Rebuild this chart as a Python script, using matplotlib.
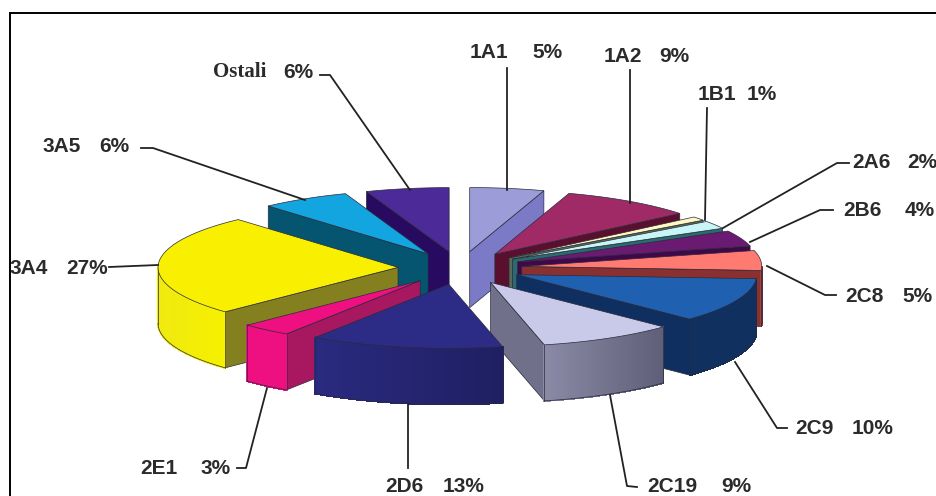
import numpy as np
import matplotlib
matplotlib.use("Agg")
import matplotlib.pyplot as plt
from matplotlib.colors import to_rgb

# ---- data -------------------------------------------------------------
names = ["1A1", "1A2", "1B1", "2A6", "2B6", "2C8", "2C9", "2C19", "2D6", "2E1", "3A4", "3A5", "Ostali"]
percent_labels = ["5%", "9%", "1%", "2%", "4%", "5%", "10%", "9%", "13%", "3%", "27%", "6%", "6%"]
# sector sizes as drawn in the picture (the printed labels are rounded)
shares = [5.0, 9.0, 1.0, 2.0, 4.0, 5.0, 11.2, 9.2, 13.0, 3.4, 25.6, 6.0, 5.6]

# ---- styles -----------------------------------------------------------
top_colors = ["#9c9cd9", "#a02a66", "#fdf8c4", "#c8f5f5", "#6a1a70", "#ff7a70", "#2060b0",
              "#c9c9ea", "#2c2c86", "#ee0f80", "#f8f000", "#12a5e0", "#4c2a98"]
face_colors = ["#7a7ac6", "#5a0f2e", "#5a6a55", "#2a6a70", "#40084a", "#8a3030", "#0f2f60",
               "#70708a", "#232370", "#a81860", "#85801f", "#055570", "#280a60"]
rim_left = ["#7a7ac6", "#5a0f2e", "#5a6a55", "#2a6a70", "#40084a", "#a04038", "#10305f",
            "#8a8aa6", "#2a2a80", "#ee0f80", "#f0ea10", "#055570", "#280a60"]
rim_right = ["#7a7ac6", "#5a0f2e", "#5a6a55", "#2a6a70", "#40084a", "#a04038", "#10305f",
             "#5e5e78", "#1f1f62", "#ee0f80", "#f6f000", "#055570", "#280a60"]
CX, CY, RX, KY, EXPLODE, DEPTH = 460, 268, 240, 0.267, 62, 56
EDGE = "#2a2a3a"
TEXT = "#2b2b2b"

label_pos = {  # name x, pct x, y
    "1A1": (470, 532, 53), "1A2": (604, 659, 56), "1B1": (698, 747, 95),
    "2A6": (852, 907, 162), "2B6": (843, 905, 210), "2C8": (845, 902, 296),
    "2C9": (795, 852, 429), "2C19": (647, 721, 487), "2D6": (385, 443, 486),
    "2E1": (140, 201, 468), "3A4": (10, 66, 268), "3A5": (43, 99, 147),
    "Ostali": (213, 283, 72),
}
leaders = {
    "1A1": ([507, 507], [68, 190]), "1A2": ([630, 630], [70, 203]),
    "1B1": ([707, 705], [108, 220]), "2A6": ([849, 837, 723], [163, 163, 228]),
    "2B6": ([833, 820, 750], [210, 210, 242]), "2C8": ([836, 825, 767], [295, 295, 266]),
    "2C9": ([787, 777, 735], [428, 428, 362]), "2C19": ([637, 627, 610], [487, 486, 395]),
    "2D6": ([408, 408], [404, 468]), "2E1": ([237, 246, 267], [468, 468, 388]),
    "3A4": ([109, 158], [267, 265]), "3A5": ([141, 153, 305], [148, 148, 200]),
    "Ostali": ([320, 330, 410], [75, 75, 190]),
}

fig = plt.figure(figsize=(9.37, 4.96), dpi=100, facecolor="white")
ax = fig.add_axes([0, 0, 1, 1])
ax.set_xlim(0, 937)
ax.set_ylim(496, 0)
ax.axis("off")


def project(theta, ax0, ay0):
    return ax0 + RX * np.sin(theta), ay0 - RX * KY * np.cos(theta)


edges = np.radians(np.concatenate([[0], np.cumsum(shares)]) / np.sum(shares) * 360)
mids = (edges[:-1] + edges[1:]) / 2
order = np.argsort(-np.cos(mids))

for i in order:
    t0, t1, tm = edges[i], edges[i + 1], mids[i]
    ax0 = CX + EXPLODE * np.sin(tm)
    ay0 = CY - EXPLODE * KY * np.cos(tm)
    theta = np.linspace(t0, t1, 60)
    xs, ys = project(theta, ax0, ay0)

    # rear-facing cut faces are skipped, the visible ones are extruded
    if np.sin(t0) < 0:
        x1, y1 = project(t0, ax0, ay0)
        ax.fill([ax0, x1, x1, ax0], [ay0, y1, y1 + DEPTH, ay0 + DEPTH],
                facecolor=face_colors[i], edgecolor=EDGE, lw=0.5, zorder=1)
    if np.sin(t1) > 0:
        x1, y1 = project(t1, ax0, ay0)
        ax.fill([ax0, x1, x1, ax0], [ay0, y1, y1 + DEPTH, ay0 + DEPTH],
                facecolor=face_colors[i], edgecolor=EDGE, lw=0.5, zorder=1)
    # outer rim, only where it faces the viewer, with a left-right shading
    front = np.cos(theta) < 0
    if front.sum() > 1:
        fx, fy = xs[front], ys[front]
        c0, c1 = np.array(to_rgb(rim_left[i])), np.array(to_rgb(rim_right[i]))
        lo, hi = fx.min(), fx.max()
        for j in range(len(fx) - 1):
            f = ((fx[j] + fx[j + 1]) / 2 - lo) / max(hi - lo, 1)
            col = c0 + (c1 - c0) * f
            ax.fill([fx[j], fx[j + 1], fx[j + 1], fx[j]],
                    [fy[j], fy[j + 1], fy[j + 1] + DEPTH, fy[j] + DEPTH],
                    facecolor=col, edgecolor=col, lw=0.8, antialiased=False, zorder=1)
        ax.plot(fx, fy + DEPTH, color=EDGE, lw=0.5, zorder=1)
        ax.plot([fx[0], fx[0]], [fy[0], fy[0] + DEPTH], color=EDGE, lw=0.5, zorder=1)
        ax.plot([fx[-1], fx[-1]], [fy[-1], fy[-1] + DEPTH], color=EDGE, lw=0.5, zorder=1)
    ax.fill(np.r_[ax0, xs], np.r_[ay0, ys], facecolor=top_colors[i],
            edgecolor=EDGE, lw=0.5, zorder=1)

# leader lines
for name in names:
    lx, ly = leaders[name]
    ax.plot(lx, ly, color="#222222", lw=1.3, zorder=2, solid_joinstyle="round")

# labels
sans = "Liberation Sans"
for name, pct in zip(names, percent_labels):
    xn, xp, y = label_pos[name]
    fam = "Liberation Serif" if name == "Ostali" else sans
    ax.text(xn, y, name, family=fam, fontweight="bold", fontsize=15,
            color=TEXT, va="center", ha="left", zorder=3)
    ax.text(xp, y, pct, family=sans, fontweight="bold", fontsize=15,
            color=TEXT, va="center", ha="left", zorder=3)

# image frame
ax.plot([10, 10], [496, 13], color="black", lw=1.4, zorder=4)
ax.plot([10, 937], [13, 13], color="black", lw=1.4, zorder=4)

fig.savefig("out.png", dpi=100, facecolor="white")
